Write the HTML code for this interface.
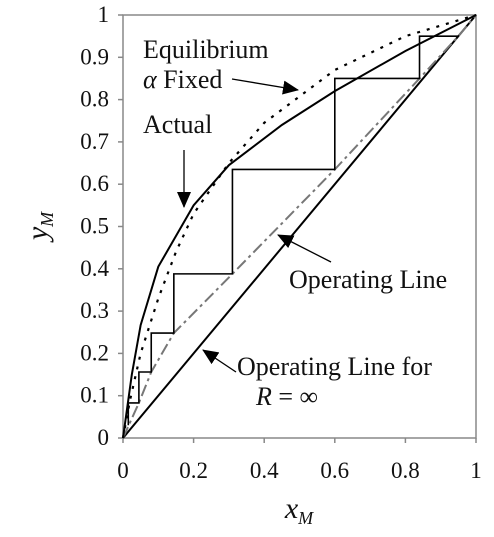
<!DOCTYPE html>
<html><head><meta charset="utf-8"><style>
body{margin:0;background:#fff}
svg text{font-family:"Liberation Serif",serif;fill:#111}
</style></head><body>
<svg width="494" height="532" viewBox="0 0 494 532">
<defs><marker id="ah2" markerWidth="16" markerHeight="14" refX="15" refY="7" orient="auto" markerUnits="userSpaceOnUse"><path d="M0,0 L16,7 L0,14 Z" fill="#000"/></marker></defs>
<g id="plot"></g>
<g id="ann">
<text x="143" y="58" font-size="26">Equilibrium</text>
<text x="143" y="88" font-size="26"><tspan font-style="italic">α</tspan> Fixed</text>
<line x1="232" y1="79" x2="298" y2="90" stroke="#000" stroke-width="1.3" marker-end="url(#ah2)"/>
<text x="143" y="133" font-size="26">Actual</text>
<line x1="184" y1="150" x2="184" y2="207" stroke="#000" stroke-width="1.3" marker-end="url(#ah2)"/>
<text x="289" y="288" font-size="26">Operating Line</text>
<line x1="331" y1="262" x2="278" y2="235" stroke="#000" stroke-width="1.3" marker-end="url(#ah2)"/>
<text x="237" y="375" font-size="26">Operating Line for</text>
<text x="256" y="405" font-size="26"><tspan font-style="italic">R</tspan> = ∞</text>
<line x1="236" y1="372" x2="203" y2="350" stroke="#000" stroke-width="1.3" marker-end="url(#ah2)"/>
<text x="40" y="233" font-size="30" font-style="italic" transform="rotate(-90 40 226)" text-anchor="middle">y<tspan font-size="18" dy="6">M</tspan></text>
<text x="299" y="518" font-size="30" font-style="italic" text-anchor="middle">x<tspan font-size="18" dy="6">M</tspan></text>
</g>
</svg>
<script>
const xTicks=[0,0.2,0.4,0.6,0.8,1];
const xTickLabels=["0","0.2","0.4","0.6","0.8","1"];
const yTicks=[0,0.1,0.2,0.3,0.4,0.5,0.6,0.7,0.8,0.9,1];
const yTickLabels=["0","0.1","0.2","0.3","0.4","0.5","0.6","0.7","0.8","0.9","1"];
const actualX=[0,0.025,0.05,0.1,0.2,0.3,0.45,0.6,0.8,1];
const actualY=[0,0.15,0.267,0.405,0.55,0.645,0.74,0.82,0.915,1];
const eqX=[0,0.02,0.05,0.1,0.15,0.2,0.3,0.4,0.6,0.8,1];
const eqY=[0,0.09,0.2,0.33,0.44,0.53,0.65,0.745,0.87,0.95,1];
const opX=[0,0.045,0.08,0.144,0.31,0.6,0.84,0.95,1];
const opY=[0,0.083,0.156,0.248,0.388,0.635,0.85,0.95,1];
const stageX=[0.015,0.045,0.08,0.144,0.31,0.6,0.84];
const stageY=[0.083,0.156,0.248,0.388,0.635,0.85,0.95];
const stageStartY=0.03, stageEndX=0.95;
const refX=[0,1], refY=[0,1];
const X0=123,X1=476,Y0=438,Y1=15;
const sx=v=>X0+(X1-X0)*v, sy=v=>Y0-(Y0-Y1)*v;
const NS="http://www.w3.org/2000/svg", g=document.getElementById('plot');
function mk(t,a){const e=document.createElementNS(NS,t);for(const k in a)e.setAttribute(k,a[k]);g.appendChild(e);return e;}
let e=mk('rect',{x:X0,y:Y1,width:X1-X0,height:Y0-Y1,fill:'none',stroke:'#888','stroke-width':1.5});


xTicks.forEach((v,i)=>{
 let t=mk('line',{x1:sx(v),x2:sx(v),y1:Y0,y2:Y0+5,stroke:'#888','stroke-width':1.5});
 
 
 let l=mk('text',{x:sx(v),y:478,'font-size':23,'text-anchor':'middle'});l.textContent=xTickLabels[i];
 
 
});
yTicks.forEach((v,i)=>{
 let t=mk('line',{x1:X0-5,x2:X0,y1:sy(v),y2:sy(v),stroke:'#888','stroke-width':1.5});
 
 
 let l=mk('text',{x:109,y:sy(v)+7,'font-size':23,'text-anchor':'end'});l.textContent=yTickLabels[i];
 
 
});
const pts=(xs,ys)=>xs.map((x,i)=>sx(x)+','+sy(ys[i])).join(' ');
e=mk('polyline',{points:pts(refX,refY),fill:'none',stroke:'#000','stroke-width':2});


e=mk('polyline',{points:pts(opX,opY),fill:'none',stroke:'#777','stroke-width':2,'stroke-dasharray':'12,4,3,4'});


e=mk('polyline',{points:pts(eqX,eqY),fill:'none',stroke:'#000','stroke-width':2.2,'stroke-dasharray':'3,7'});


e=mk('polyline',{points:pts(actualX,actualY),fill:'none',stroke:'#000','stroke-width':2});


let sp=[[stageX[0],stageStartY]];
stageX.forEach((x,i)=>{sp.push([x,stageY[i]]);sp.push([i+1<stageX.length?stageX[i+1]:stageEndX,stageY[i]]);});
e=mk('polyline',{points:sp.map(p=>sx(p[0])+','+sy(p[1])).join(' '),fill:'none',stroke:'#000','stroke-width':1.6});


</script>
</body></html>
